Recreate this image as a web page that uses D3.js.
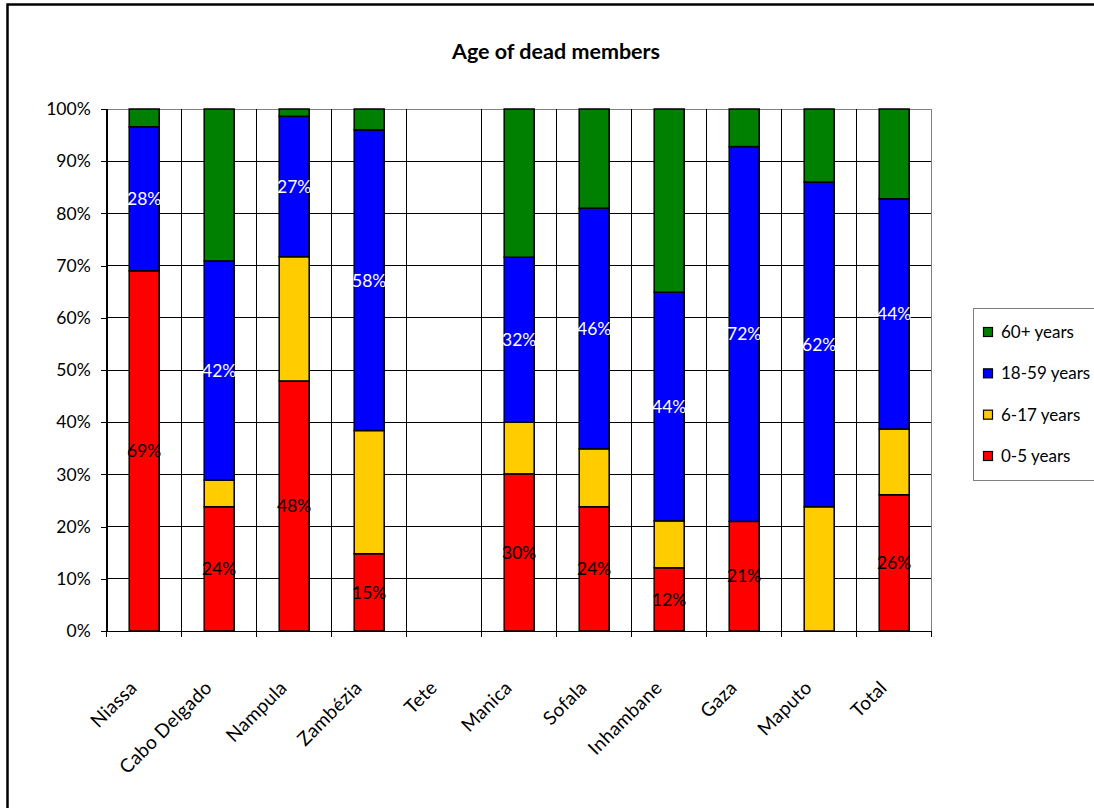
<!DOCTYPE html>
<html>
<head>
<meta charset="utf-8">
<script src="https://cdn.jsdelivr.net/npm/d3@7"></script>
<style>
  html, body { margin: 0; padding: 0; background: #fff; overflow: hidden; }
  svg { display: block; font-family: Lato, "Open Sans", sans-serif; }
</style>
</head>
<body>
<svg id="chart" width="1094" height="808"></svg>
<script>
// Provinces along the x axis
const categories = ["Niassa", "Cabo Delgado", "Nampula", "Zambézia", "Tete", "Manica",
                    "Sofala", "Inhambane", "Gaza", "Maputo", "Total"];

// Share of dead household members by age group (percent)
const age0to5   = [69.0, 23.8, 47.9, 14.8, 0, 30.1, 23.8, 12.1, 21.0, 0,    26.1];
const age6to17  = [0,     5.1, 23.8, 23.6, 0,  9.9, 11.1,  9.0,  0,   23.8, 12.6];
const age18to59 = [27.6, 42.0, 26.9, 57.6, 0, 31.6, 46.1, 43.8, 71.8, 62.2, 44.1];
const age60plus = [3.4,  29.1,  1.4,  4.0, 0, 28.4, 19.0, 35.1,  7.2, 14.0, 17.2];

const seriesNames  = ["0-5 years", "6-17 years", "18-59 years", "60+ years"];
const seriesValues = [age0to5, age6to17, age18to59, age60plus];
const seriesColors = ["#ff0000", "#ffcc00", "#0000ff", "#008000"];
// which series carry value labels, and in what text colour
const labelColors  = ["#000", null, "#fff", null];

const yTicks = [0, 10, 20, 30, 40, 50, 60, 70, 80, 90, 100];
const title = "Age of dead members";

const svg = d3.select("#chart");

// outer frame
svg.append("rect")
  .attr("x", 7.5).attr("y", 4.5).attr("width", 1200).attr("height", 900)
  .attr("fill", "none").attr("stroke", "#000").attr("stroke-width", 2.5);

const plot = { left: 106.7, right: 931.7, top: 109, bottom: 631 };

const x = d3.scaleBand()
  .domain(categories)
  .range([plot.left, plot.right])
  .paddingInner(0.6)
  .paddingOuter(0.3);

const y = d3.scaleLinear().domain([0, 100]).range([plot.bottom, plot.top]);

// category boundaries for vertical gridlines
const step = x.step();
const bounds = d3.range(categories.length + 1).map(i => plot.left + i * step);

const grid = svg.append("g").attr("shape-rendering", "crispEdges");
grid.selectAll("line.h").data(yTicks).join("line")
  .attr("class", "h")
  .attr("x1", plot.left).attr("x2", plot.right)
  .attr("y1", d => y(d)).attr("y2", d => y(d))
  .attr("stroke", d => (d === 100) ? "#808080" : "#000").attr("stroke-width", 1);
grid.selectAll("line.v").data(bounds).join("line")
  .attr("class", "v")
  .attr("x1", d => d).attr("x2", d => d)
  .attr("y1", plot.top).attr("y2", plot.bottom)
  .attr("stroke", (d, i) => (i === bounds.length - 1) ? "#808080" : "#000").attr("stroke-width", 1);

// y axis
const yAxis = svg.append("g")
  .attr("transform", `translate(${plot.left},0)`)
  .call(d3.axisLeft(y).tickValues(yTicks).tickFormat(d => d + "%").tickSize(6).tickPadding(10));
yAxis.select(".domain").attr("stroke", "#000").attr("shape-rendering", "crispEdges");
yAxis.selectAll(".tick line").attr("stroke", "#000").attr("shape-rendering", "crispEdges");
yAxis.selectAll(".tick text")
  .attr("font-family", "Lato, sans-serif").attr("font-size", 17.5).attr("fill", "#000");

// x axis: line plus boundary ticks
svg.append("line")
  .attr("x1", plot.left).attr("x2", plot.right)
  .attr("y1", plot.bottom).attr("y2", plot.bottom)
  .attr("stroke", "#000").attr("shape-rendering", "crispEdges");
svg.append("g").selectAll("line").data(bounds).join("line")
  .attr("x1", d => d).attr("x2", d => d)
  .attr("y1", plot.bottom).attr("y2", plot.bottom + 6)
  .attr("stroke", "#000").attr("shape-rendering", "crispEdges");

svg.append("g").selectAll("text").data(categories).join("text")
  .attr("transform", d => `translate(${x(d) + x.bandwidth() / 2 - 6},${plot.bottom + 58}) rotate(-45)`)
  .attr("text-anchor", "end")
  .attr("font-size", 19)
  .attr("letter-spacing", 0.3)
  .attr("fill", "#000")
  .text(d => d);

// stacked bars
const rows = categories.map((c, i) => {
  const r = { category: c };
  seriesNames.forEach((s, k) => { r[s] = seriesValues[k][i]; });
  return r;
});
const stacked = d3.stack().keys(seriesNames)(rows);

const barLayer = svg.append("g");
stacked.forEach((layer, k) => {
  barLayer.append("g").selectAll("rect")
    .data(layer.filter(d => d[1] - d[0] > 0))
    .join("rect")
    .attr("x", d => x(d.data.category))
    .attr("width", x.bandwidth())
    .attr("y", d => y(d[1]))
    .attr("height", d => y(d[0]) - y(d[1]))
    .attr("fill", seriesColors[k])
    .attr("stroke", "#000")
    .attr("stroke-width", 1.5);
});

// value labels
const fmt = v => Math.round(v) + "%";
stacked.forEach((layer, k) => {
  if (!labelColors[k]) return;
  svg.append("g").selectAll("text")
    .data(layer.filter(d => d[1] - d[0] > 0))
    .join("text")
    .attr("x", d => x(d.data.category) + x.bandwidth() / 2)
    .attr("y", d => y((d[0] + d[1]) / 2))
    .attr("dy", "0.36em")
    .attr("text-anchor", "middle")
    .attr("font-size", 17.5)
    .attr("fill", labelColors[k])
    .text(d => fmt(d[1] - d[0]));
});

// title
svg.append("text")
  .attr("x", 556).attr("y", 59)
  .attr("text-anchor", "middle")
  .attr("font-size", 21.5)
  .attr("font-weight", "bold")
  .attr("fill", "#000")
  .text(title);

// legend, top entry is the last series
const legend = svg.append("g");
legend.append("rect")
  .attr("x", 973.5).attr("y", 308.5).attr("width", 200).attr("height", 172)
  .attr("fill", "#fff").attr("stroke", "#808080").attr("stroke-width", 1);
const legendOrder = d3.range(seriesNames.length).reverse();
const legendY = d3.scalePoint().domain(legendOrder).range([332, 456]);
legendOrder.forEach(k => {
  const cy = legendY(k);
  legend.append("rect")
    .attr("x", 983.5).attr("y", cy - 4.5).attr("width", 9).attr("height", 9)
    .attr("fill", seriesColors[k]).attr("stroke", "#000").attr("stroke-width", 1.2);
  legend.append("text")
    .attr("x", 1001).attr("y", cy).attr("dy", "0.36em")
    .attr("font-size", 17).attr("fill", "#000")
    .text(seriesNames[k]);
});
</script>
</body>
</html>
